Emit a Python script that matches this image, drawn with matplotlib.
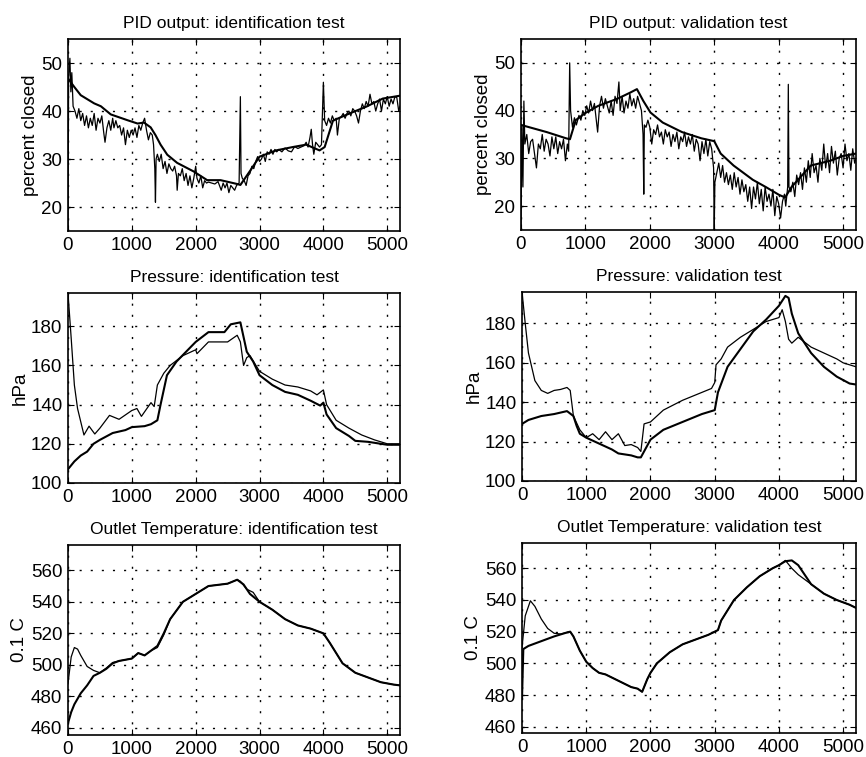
import numpy as np
import matplotlib
matplotlib.use("Agg")
import matplotlib.pyplot as plt

plt.rcParams['font.family'] = ['Liberation Sans', 'DejaVu Sans']

# ---------------- PID output: identification test ----------------
pid_id_meas_x = [0, 10, 30, 45, 60, 80, 110, 140, 170, 200, 230, 260, 290, 320, 350, 380, 410, 440, 470, 500,
                 530, 560, 580, 610, 640, 670, 700, 720, 750, 780, 810, 840, 870, 900, 930, 960, 990, 1020, 1050,
                 1080, 1110, 1140, 1170, 1200, 1230, 1260, 1290, 1320, 1340, 1360, 1370, 1380, 1400, 1430, 1460,
                 1490, 1520, 1550, 1580, 1610, 1640, 1670, 1700, 1710, 1730, 1760, 1790, 1820, 1850, 1880, 1910,
                 1940, 1970, 2000, 2020, 2050, 2080, 2110, 2140, 2170, 2200, 2250, 2300, 2350, 2400, 2430, 2460,
                 2490, 2520, 2550, 2580, 2610, 2640, 2680, 2700, 2710, 2730, 2760, 2790, 2820, 2850, 2880, 2910,
                 2940, 2970, 3000, 3030, 3060, 3090, 3120, 3150, 3180, 3210, 3240, 3270, 3300, 3350, 3400, 3450,
                 3500, 3550, 3600, 3650, 3700, 3730, 3760, 3790, 3810, 3830, 3850, 3880, 3910, 3940, 3970, 4000,
                 4020, 4050, 4080, 4110, 4140, 4170, 4200, 4220, 4250, 4280, 4310, 4340, 4370, 4400, 4430, 4460,
                 4490, 4520, 4550, 4580, 4610, 4640, 4670, 4700, 4730, 4760, 4790, 4820, 4850, 4880, 4910, 4940,
                 4970, 5000, 5030, 5060, 5090, 5120, 5150, 5180, 5200]
pid_id_meas_y = [15, 47, 51, 44, 48, 41, 40, 38.5, 40.5, 38, 39.5, 37, 39, 36.5, 38.5, 37, 39.5, 36, 38.5, 37.5,
                 39, 35.5, 33.5, 36.5, 38, 36, 38.5, 36.5, 38, 36.5, 37, 35, 36.5, 33, 36, 34.5, 36, 35, 36.5,
                 34.5, 37, 36, 37.5, 38.5, 36, 34, 35.5, 35, 33, 28, 21, 30, 31, 29.5, 31,
                 28, 29.5, 27, 29, 28, 27.5, 28.5, 26.5, 23.5, 27, 26.5, 28, 25.5, 27, 24.5, 26.5,
                 24, 26, 28.5, 26, 25, 26.5, 24, 25.5, 25, 25.2, 25, 24.8, 25.3, 23.5, 25, 24,
                 25, 23, 24.5, 24, 23.5, 24.5, 25, 43, 27, 26, 25.5, 24.5, 26.5, 27, 28.5, 28,
                 29.5, 30.5, 29.5, 30, 31, 29.5, 31.5, 31, 32, 31, 32, 31.5, 32, 31.5, 32.3, 31.7,
                 31.5, 32.6, 32.2, 32.5, 32.8, 33.5, 32.5, 34.5, 36.2, 33, 31, 33.5, 33, 32.5, 33, 46,
                 38, 37, 38.5, 37.5, 39, 38, 38.5, 35, 38.5, 38.8, 39.5, 38.5, 39.5, 40, 39, 40.5,
                 40, 39, 37.5, 40, 41.5, 40.5, 42, 41, 43.5, 41.5, 42, 40, 41.5, 42.5, 40, 42.5,
                 41.5, 43, 41, 42.5, 41.5, 43, 42.8, 40, 41]
pid_id_model_x = [0, 100, 200, 410, 515, 670, 930, 1090, 1190, 1295, 1370, 1450, 1555, 1710, 1970, 2180, 2390,
                  2650, 2700, 2850, 3000, 3260, 3520, 3730, 3940, 4020, 4150, 4410, 4670, 4930, 5200]
pid_id_model_y = [46.8, 45, 43.3, 41.6, 41, 39.3, 38.1, 37.4, 37.6, 36.6, 35, 33, 30.9, 29.2, 27.4, 25.6, 25.6,
                  24.8, 24.6, 27.5, 30.5, 31.8, 32.5, 33, 31.8, 32.5, 38, 39.5, 40.9, 42.6, 43.2]

# ---------------- PID output: validation test ----------------
pid_val_meas_x = [0, 15, 30, 45, 60, 90, 120, 150, 180, 210, 240, 270, 300, 330, 360, 390, 420, 450, 480, 510,
                  540, 570, 600, 630, 660, 690, 720, 740, 756, 770, 800, 830, 860, 900, 930, 960, 990, 1020,
                  1050, 1080, 1110, 1140, 1170, 1190, 1220, 1250, 1280, 1310, 1340, 1370, 1400, 1430, 1460,
                  1490, 1520, 1540, 1570, 1600, 1630, 1660, 1690, 1720, 1750, 1780, 1810, 1840, 1870, 1895,
                  1906, 1915, 1940, 1970, 2000, 2030, 2060, 2090, 2120, 2150, 2180, 2210, 2240, 2270, 2300,
                  2330, 2360, 2390, 2420, 2450, 2480, 2510, 2540, 2570, 2600, 2630, 2660, 2690, 2720, 2750,
                  2780, 2810, 2840, 2870, 2900, 2930, 2960, 2990, 3000, 3010, 3040, 3070, 3100, 3130, 3160,
                  3190, 3220, 3250, 3280, 3310, 3340, 3370, 3400, 3430, 3460, 3490, 3520, 3550, 3580, 3610,
                  3640, 3670, 3700, 3730, 3760, 3790, 3820, 3850, 3880, 3910, 3940, 3970, 4000, 4030, 4060,
                  4090, 4110, 4140, 4150, 4160, 4190, 4220, 4250, 4280, 4310, 4340, 4370, 4400, 4430, 4460,
                  4490, 4520, 4550, 4580, 4610, 4640, 4670, 4700, 4730, 4760, 4790, 4820, 4850, 4880, 4910,
                  4940, 4970, 5000, 5030, 5060, 5090, 5120, 5150, 5180, 5200]
pid_val_meas_y = [15, 37, 24, 42, 33, 35, 31, 33.5, 34, 31, 28, 33, 32, 35, 31.5, 34, 33, 30.5, 34.5, 32,
                  34.5, 31, 33.5, 32, 34, 29.5, 33, 31.5, 50, 40, 36.5, 38.5, 37, 39, 38, 40, 39, 41,
                  39.5, 42, 40, 41.5, 38, 35.5, 41, 43, 40.5, 42.5, 41, 39.5, 42, 39, 43,
                  41.5, 46, 40, 43, 39.5, 42, 40.5, 43.5, 41, 42.5, 40.5, 43, 41.5, 40, 35,
                  22.5, 37, 36.5, 38, 36.5, 33, 36, 35, 37, 34.5, 35.5, 33, 36, 34.5, 35.5,
                  32.5, 35, 33.5, 35.5, 32, 34.5, 33.5, 35.5, 32.5, 34.5, 33, 35, 31.5, 34, 33,
                  29.5, 33.5, 31, 34, 30.5, 33.5, 32, 28, 15, 25, 27, 29, 26, 28.5, 25,
                  27, 24.5, 26.5, 23.5, 27, 24, 26, 22.5, 25.5, 23, 24.5, 21, 24, 19.5, 24,
                  21.5, 25, 20.5, 23.5, 19, 24, 21, 22.5, 20, 23.5, 18, 22, 20.5, 17.5, 21,
                  22.5, 20, 24, 45.5, 24, 23, 25, 22, 26.5, 24.5, 27, 23.5, 28, 25, 29.5,
                  26, 31, 27, 28.5, 25, 30, 27.5, 33, 28, 31, 27, 32.5, 29, 31.5, 26.5,
                  30, 31, 28, 33, 29.5, 31, 27.5, 32, 29, 30]
pid_val_model_x = [0, 400, 700, 760, 850, 1000, 1200, 1500, 1700, 1800, 1900, 2010, 2200, 2500, 2800, 3000,
                   3100, 3300, 3600, 3800, 4000, 4100, 4200, 4400, 4500, 4800, 5000, 5200]
pid_val_model_y = [37, 35.5, 34.2, 34, 38, 39.5, 41, 42.5, 43.8, 44.5, 42, 39.6, 37.5, 35.5, 34.2, 33.6,
                   31, 28.5, 25.5, 24, 22.4, 21.8, 24, 27, 28.5, 29.5, 30.5, 31]

# ---------------- Pressure: identification test ----------------
prs_id_a_x = [0, 50, 100, 150, 250, 330, 420, 500, 650, 800, 1000, 1080, 1150, 1300, 1350, 1400, 1500, 1600,
              1800, 2000, 2020, 2200, 2500, 2650, 2700, 2750, 2800, 2850, 3000, 3200, 3400, 3600, 3800, 3900,
              4000, 4050, 4200, 4400, 4600, 4800, 5000, 5200]
prs_id_a_y = [197, 174, 150, 138, 124.5, 129, 125, 128, 134.5, 132.5, 137, 138, 134, 141, 139, 150, 156, 160,
              165, 168, 166, 172, 172, 175.4, 172, 160, 164, 165, 157, 153, 150, 149, 147, 145,
              147.5, 140, 132, 128, 124.5, 122, 120, 120]
prs_id_b_x = [0, 100, 200, 300, 400, 500, 700, 900, 1000, 1200, 1300, 1400, 1450, 1550, 1700, 2000, 2200,
              2450, 2550, 2700, 2800, 2900, 3000, 3200, 3400, 3600, 3800, 3950, 4000, 4050, 4200, 4400,
              4500, 4700, 5000, 5200]
prs_id_b_y = [107, 111, 114, 116, 120, 122, 125.5, 127, 128.5, 129, 130, 132, 140, 155, 162, 172, 177,
              177, 181, 182, 167, 162, 155, 150, 146.5, 145, 142, 139.5, 141, 135, 128, 124,
              121.5, 121, 119.5, 119.5]

# ---------------- Pressure: validation test ----------------
prs_val_a_x = [0, 50, 100, 200, 300, 400, 500, 600, 700, 750, 800, 900, 1000, 1100, 1200, 1300, 1400, 1500,
               1600, 1700, 1800, 1850, 1900, 2000, 2200, 2500, 2800, 2950, 3000, 3020, 3100, 3200, 3400, 3600,
               3800, 4000, 4050, 4100, 4150, 4200, 4300, 4500, 4700, 4900, 5000, 5200]
prs_val_a_y = [196, 180, 165, 151, 146, 144.5, 146, 146.5, 147.5, 146, 133, 126, 122, 124, 121, 125, 121, 124,
               118, 118.5, 117, 115, 129, 130, 136, 141, 145, 147, 150, 159, 162, 168, 173, 177,
               181, 183, 187, 181, 172, 170, 173, 168, 165, 162, 160, 158]
prs_val_b_x = [0, 100, 300, 500, 700, 800, 850, 900, 1000, 1200, 1400, 1500, 1700, 1800, 1850, 1950, 2000,
               2200, 2500, 2800, 3000, 3050, 3200, 3400, 3600, 3800, 4000, 4100, 4150, 4200, 4300, 4500,
               4700, 4900, 5100, 5200]
prs_val_b_y = [129, 131, 133, 134, 135.5, 133, 128, 124, 122, 119, 116, 114, 113, 112, 112, 118, 121,
               126, 130, 134, 136, 145, 158, 167, 176, 182, 189, 194, 193, 185, 175, 165,
               158, 153, 149.5, 149]

# ---------------- Outlet Temperature: identification test ----------------
tmp_id_a_x = [0, 50, 100, 150, 200, 300, 400, 500, 600, 700, 800, 1000, 1100, 1200, 1300, 1400, 1500, 1600,
              1800, 2000, 2200, 2500, 2650, 2700, 2800, 2900, 3000, 3200, 3400, 3600, 3800, 4000, 4100, 4300,
              4500, 4700, 4900, 5100, 5200]
tmp_id_a_y = [488, 505, 511, 510, 506, 499, 496.5, 495, 498, 501.5, 502.5, 504, 507.5, 506, 509, 511, 519, 529,
              540, 545, 550, 551.5, 554, 553, 548, 546, 540, 535, 529, 525, 523, 520, 514, 501,
              495, 492, 489, 487.5, 487]
tmp_id_b_x = [0, 50, 100, 200, 300, 400, 500, 600, 700, 800, 1000, 1100, 1200, 1300, 1400, 1500, 1600,
              1800, 2000, 2200, 2500, 2650, 2750, 2850, 3000, 3200, 3400, 3600, 3800, 4000, 4100, 4300,
              4500, 4700, 4900, 5100, 5200]
tmp_id_b_y = [463, 470, 475, 482, 487, 493, 495, 497.5, 501, 502.5, 504, 507.5, 506, 509, 512, 520, 529,
              540, 545, 550, 551.5, 554, 551, 545, 540, 535, 529, 525, 523, 520, 514, 501,
              495, 492, 489, 487.5, 487]

# ---------------- Outlet Temperature: validation test ----------------
tmp_val_a_x = [0, 50, 130, 200, 300, 400, 500, 600, 700, 750, 800, 900, 1000, 1100, 1200, 1300, 1400, 1500,
               1600, 1700, 1800, 1870, 1950, 2000, 2100, 2300, 2500, 2700, 2900, 3000, 3050, 3100, 3300, 3500,
               3700, 3900, 4000, 4100, 4200, 4300, 4500, 4700, 4900, 5100, 5200]
tmp_val_a_y = [510, 530, 539.5, 536, 528, 522, 519, 518.5, 519.5, 520, 517, 508, 501, 497, 494, 493, 491, 489,
               487, 485, 484, 482, 490, 494, 500, 507, 512, 515, 518, 520, 521, 527, 540, 548,
               555, 560, 562, 565, 560, 556, 550, 544, 540, 537, 535]
tmp_val_b_x = [0, 20, 100, 300, 500, 700, 750, 800, 900, 1000, 1100, 1200, 1300, 1400, 1500, 1600, 1700,
               1800, 1870, 1950, 2000, 2100, 2300, 2500, 2700, 2900, 3000, 3050, 3100, 3300, 3500, 3700,
               3900, 4000, 4100, 4200, 4300, 4400, 4500, 4700, 4900, 5100, 5200]
tmp_val_b_y = [478, 509, 511, 514, 517, 519.5, 520, 517, 508, 501, 497, 494, 493, 491, 489, 487, 485,
               484, 482, 490, 494, 500, 507, 512, 515, 518, 520, 521, 527, 540, 548, 555,
               560, 562, 564.5, 565, 562, 556, 550, 544, 540, 537, 535]

# ---------------- axis settings ----------------
x_ticks = [0, 1000, 2000, 3000, 4000, 5000]
pid_ticks = [20, 30, 40, 50]
prs_ticks = [100, 120, 140, 160, 180]
tmp_ticks = [460, 480, 500, 520, 540, 560]

panels = [
    dict(title="PID output: identification test", ylabel="percent closed", ylim=(15, 55), yticks=pid_ticks,
         thin=(pid_id_meas_x, pid_id_meas_y), thick=(pid_id_model_x, pid_id_model_y),
         rect=[0.0785, 0.6948, 0.3834, 0.2536]),
    dict(title="PID output: validation test", ylabel="percent closed", ylim=(15, 55), yticks=pid_ticks,
         thin=(pid_val_meas_x, pid_val_meas_y), thick=(pid_val_model_x, pid_val_model_y),
         rect=[0.6016, 0.6962, 0.3868, 0.2523]),
    dict(title="Pressure: identification test", ylabel="hPa", ylim=(100, 197), yticks=prs_ticks,
         thin=(prs_id_a_x, prs_id_a_y), thick=(prs_id_b_x, prs_id_b_y),
         rect=[0.0785, 0.3620, 0.3834, 0.2510]),
    dict(title="Pressure: validation test", ylabel="hPa", ylim=(100, 196), yticks=prs_ticks,
         thin=(prs_val_a_x, prs_val_a_y), thick=(prs_val_b_x, prs_val_b_y),
         rect=[0.6028, 0.3646, 0.3857, 0.2497]),
    dict(title="Outlet Temperature: identification test", ylabel="0.1 C", ylim=(455.5, 576), yticks=tmp_ticks,
         thin=(tmp_id_a_x, tmp_id_a_y), thick=(tmp_id_b_x, tmp_id_b_y),
         rect=[0.0785, 0.0290, 0.3834, 0.2510]),
    dict(title="Outlet Temperature: validation test", ylabel="0.1 C", ylim=(456, 576), yticks=tmp_ticks,
         thin=(tmp_val_a_x, tmp_val_a_y), thick=(tmp_val_b_x, tmp_val_b_y),
         rect=[0.6028, 0.0317, 0.3857, 0.2510]),
]

fig = plt.figure(figsize=(8.66, 7.57), dpi=100)
fig.patch.set_facecolor("white")

for p in panels:
    ax = fig.add_axes(p["rect"])
    ax.plot(p["thin"][0], p["thin"][1], color="black", lw=0.9)
    ax.plot(p["thick"][0], p["thick"][1], color="black", lw=1.5)
    ax.set_xlim(0, 5200)
    ax.set_ylim(*p["ylim"])
    ax.set_xticks(x_ticks)
    ax.set_yticks(p["yticks"])
    ax.grid(True, color="black", linestyle=(0, (1.5, 6.5)), linewidth=1.0)
    ax.tick_params(direction="in", top=True, right=True, length=4, width=0.8,
                   labelsize=13.5, pad=4)
    for s in ax.spines.values():
        s.set_linewidth(1.2)
    ax.set_title(p["title"], fontsize=12.5, pad=8)
    ax.set_ylabel(p["ylabel"], fontsize=13.5, labelpad=2)

fig.savefig("out.png", dpi=100)
